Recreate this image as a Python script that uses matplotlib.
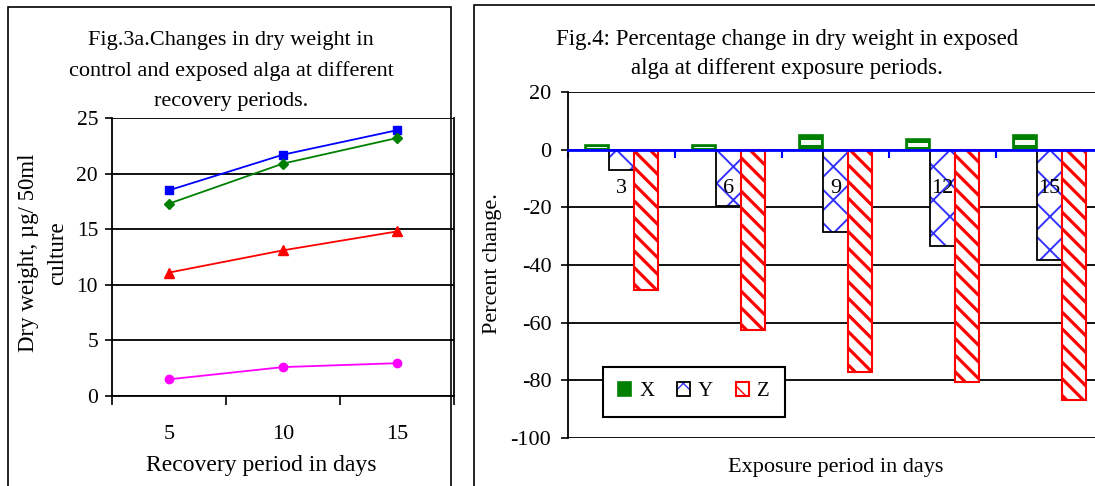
import matplotlib.pyplot as plt
from matplotlib.patches import Rectangle

plt.rcParams['font.family'] = ['Liberation Serif', 'DejaVu Serif']
plt.rcParams['axes.unicode_minus'] = False

# Fig.3a: dry weight (ug / 50 ml culture) vs recovery period
recovery_days = ['5', '10', '15']
dw_blue = [18.5, 21.7, 23.9]
dw_green = [17.3, 20.9, 23.2]
dw_red = [11.1, 13.1, 14.8]
dw_magenta = [1.5, 2.6, 2.95]

# Fig.4: percent change in dry weight vs exposure period
exposure_days = ['3', '6', '9', '12', '15']
change_x = [1.5, 1.5, 5.0, 3.6, 5.0]
change_y = [-7.0, -19.7, -28.5, -33.4, -38.2]
change_z = [-48.7, -62.6, -77.2, -80.6, -86.9]

W, H = 1095, 486
fig = plt.figure(figsize=(W / 100, H / 100), dpi=100)


def px_box(x0, y0, x1, y1):
    """pixel box (top-left origin) -> figure fraction rect"""
    return [x0 / W, 1 - y1 / H, (x1 - x0) / W, (y1 - y0) / H]


# panel frames
fig.add_artist(Rectangle((8 / W, -0.1), (451 - 8) / W, 1.1 - 7 / H,
                         transform=fig.transFigure, fill=False, ec='black', lw=1.2))
fig.add_artist(Rectangle((474 / W, -0.1), 0.6, 1.1 - 5 / H,
                         transform=fig.transFigure, fill=False, ec='black', lw=1.2))

# ---------------- Fig.3a ----------------
ax1 = fig.add_axes(px_box(112, 118, 454, 396))
xs = list(range(len(recovery_days)))
ax1.plot(xs, dw_blue, color='#0000ff', marker='s', ms=6, lw=1.3)
ax1.plot(xs, dw_green, color='#008000', marker='D', ms=5.5, lw=1.3)
ax1.plot(xs, dw_red, color='#ff0000', marker='^', ms=7, lw=1.3)
ax1.plot(xs, dw_magenta, color='#ff00ff', marker='o', ms=6, lw=1.3)

ax1.set_xlim(-0.5, len(xs) - 0.5)
ax1.set_ylim(0, 25)
ax1.set_yticks(range(0, 26, 5))
ax1.set_axisbelow(True)
ax1.yaxis.grid(True, color='black', lw=1.3)
ax1.set_xticks(xs, recovery_days)
ax1.set_xticks([x - 0.5 for x in xs] + [xs[-1] + 0.5], minor=True)
ax1.tick_params(axis='x', which='major', length=0, pad=21, labelsize=16)
ax1.tick_params(axis='x', which='minor', length=6.5, width=1.2, direction='out')
ax1.tick_params(axis='y', length=5, width=1.2, direction='out', pad=5, labelsize=15.5)
for s in ax1.spines.values():
    s.set_linewidth(1.3)
ax1.spines['top'].set_visible(False)

fig.text(231 / W, 1 - 71 / H,
         'Fig.3a.Changes in dry weight in\ncontrol and exposed alga at different\nrecovery periods.',
         ha='center', va='center', fontsize=16, linespacing=1.75)
fig.text(43 / W, 1 - 253 / H, 'Dry weight, µg/ 50ml\nculture', rotation=90,
         ha='center', va='center', fontsize=16.5, linespacing=1.55, multialignment='center')
fig.text(261 / W, 1 - 465 / H, 'Recovery period in days', ha='center', va='center', fontsize=17)

# ---------------- Fig.4 ----------------
ax2 = fig.add_axes(px_box(568, 92, 1103, 438))
pos = list(range(len(exposure_days)))
bw = 0.23

# X: green bar with a light band through the middle
bars_x = ax2.bar([p - bw for p in pos], change_x, bw, color='#008000', edgecolor='#008000', lw=1.2)
ax2.bar([p - bw for p in pos], [v * 0.35 for v in change_x], bw * 0.8,
        bottom=[v * 0.3 for v in change_x], color='#f4faf4', lw=0)
# Y: blue cross hatch, black outline
bars_y = ax2.bar(pos, change_y, bw, color='white', edgecolor='#3333ff', hatch='x', lw=0)
outline_y = ax2.bar(pos, change_y, bw, color='none', edgecolor='black', lw=1.3)
# Z: red diagonal stripes
bars_z = ax2.bar([p + bw for p in pos], change_z, bw, color='white', edgecolor='#ff0000',
                 hatch='\\\\', lw=1.5)
for b in bars_z:
    b.set_hatch_linewidth(2.3)
for b in bars_y:
    b.set_hatch_linewidth(1.4)

for p, lab in zip(pos, exposure_days):
    ax2.text(p, -13.5, lab, ha='center', va='center', fontsize=16, zorder=4)

ax2.set_xlim(-0.5, len(pos) - 0.5)
ax2.set_ylim(-100, 20)
ax2.set_yticks(range(-100, 21, 20))
ax2.set_axisbelow(True)
ax2.yaxis.grid(True, color='black', lw=1.3)
ax2.set_xticks([p - 0.5 for p in pos], [])
ax2.tick_params(axis='x', length=5.5, width=1.5, direction='out', color='#0000ff')
ax2.tick_params(axis='y', length=5, width=1.2, direction='out', pad=7, labelsize=16)
ax2.spines['bottom'].set_position(('data', 0))
ax2.spines['bottom'].set_color('#0000ff')
ax2.spines['bottom'].set_linewidth(2)
ax2.spines['left'].set_linewidth(1.3)
ax2.spines['top'].set_visible(False)
ax2.spines['right'].set_visible(False)

leg = ax2.legend([bars_x[0], (bars_y[0], outline_y[0]), bars_z[0]], ['X', 'Y', 'Z'], ncol=3,
                 loc='lower left', bbox_to_anchor=(0.065, 0.061), borderaxespad=0, fontsize=15,
                 handlelength=0.6, handleheight=0.6, handletextpad=0.4, columnspacing=1.1,
                 fancybox=False, framealpha=1, edgecolor='black', borderpad=0.75)
leg.get_frame().set_linewidth(1.5)

fig.text(787 / W, 1 - 54 / H,
         'Fig.4: Percentage change in dry weight in exposed\nalga at different exposure periods.',
         ha='center', va='center', fontsize=16.5, linespacing=1.55)
fig.text(492 / W, 1 - 264 / H, 'Percent change.', rotation=90, ha='center', va='center', fontsize=16)
fig.text(836 / W, 1 - 467 / H, 'Exposure period in days', ha='center', va='center', fontsize=16)

fig.savefig('out.png', dpi=100)
